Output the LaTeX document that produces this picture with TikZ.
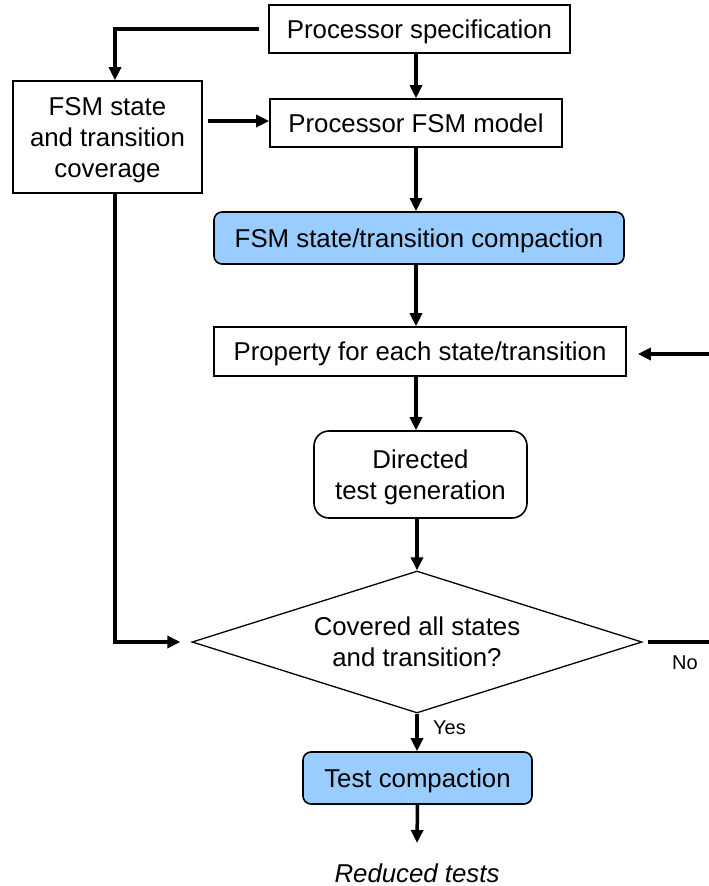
\documentclass[tikz,border=0pt]{standalone}
\usepackage{fontspec}
\setmainfont{Liberation Sans}
\usetikzlibrary{shapes.geometric,arrows.meta,calc}
\definecolor{stepblue}{RGB}{153,204,255}
\begin{document}
\begin{tikzpicture}[x=1pt,y=-1pt,
  box/.style={draw=black, line width=1.6pt, fill=white, inner sep=0pt, align=center,
              text depth=0pt, font=\fontsize{25.8}{31}\selectfont},
  hl/.style={box, fill=stepblue, rounded corners=8pt},
  arr/.style={line width=3.5pt, -{Triangle[length=13pt,width=12pt]}},
  plain/.style={line width=3.5pt},
  lbl/.style={font=\fontsize{20}{24}\selectfont, inner sep=0pt},
]
\useasboundingbox (0,0) rectangle (709,886);

% process boxes
\node[box, minimum width=301pt, minimum height=48pt] (spec) at (419.5,29) {Processor specification};
\node[box, minimum width=189pt, minimum height=112pt] (cov) at (107.5,137) {FSM state\\and transition\\coverage};
\node[box, minimum width=292pt, minimum height=48pt] (model) at (416,123) {Processor FSM model};
\node[hl, minimum width=410pt, minimum height=52pt] (fsmc) at (419,238) {FSM state/transition compaction};
\node[box, minimum width=412pt, minimum height=49pt] (prop) at (420,351.5) {Property for each state/transition};
\node[box, rounded corners=15pt, minimum width=213pt, minimum height=87pt] (gen) at (420.5,474.5) {Directed\\test generation};
\node[draw=black, diamond, line width=1.3pt, fill=white, inner sep=0pt, align=center,
      minimum width=450pt, minimum height=142pt, aspect=3.17, text depth=0pt,
      font=\fontsize{25.8}{31}\selectfont] (dec) at (417,642) {Covered all states\\and transition?};
\node[hl, minimum width=229pt, minimum height=52pt] (tc) at (417.5,778) {Test compaction};
\node[inner sep=0pt, font=\fontsize{25.8}{31}\selectfont\itshape] (out) at (417,873) {Reduced tests};

% free ends at the right margin
\coordinate (edgeP) at (709,354);
\coordinate (edgeN) at (709,642);
\coordinate (outtip) at (417,843);

% connectors
\draw[arr] ($(spec.west)+(-9,0)$) -| ($(cov.north)+(7.5,0)$);
\draw[arr] (model.north |- spec.south) -- (model.north);
\draw[arr] ($(cov.east |- model.west)+(5,-2)$) -- ($(model.west)+(0,-2)$);
\draw[arr] (model.south) -- (model.south |- fsmc.north);
\draw[arr] (model.south |- fsmc.south) -- (model.south |- prop.north);
\draw[arr] (model.south |- prop.south) -- (model.south |- gen.north);
\draw[arr] (dec.north |- gen.south) -- (dec.north);
\draw[arr] (edgeP) -- ($(prop.east |- edgeP)+(11,0)$);
\draw[arr] ($(cov.south)+(7.5,0)$) |- ($(dec.west)+(-11,0)$);
\draw[plain] ($(dec.east)+(5,0)$) -- (edgeN);
\draw[arr] (dec.south) -- (dec.south |- tc.north);
\draw[arr] (tc.south) -- (outtip);

% branch labels
\node[lbl] (no) at (685,663) {No};
\node[lbl, anchor=west] (yes) at (433,728) {Yes};
\end{tikzpicture}
\end{document}
